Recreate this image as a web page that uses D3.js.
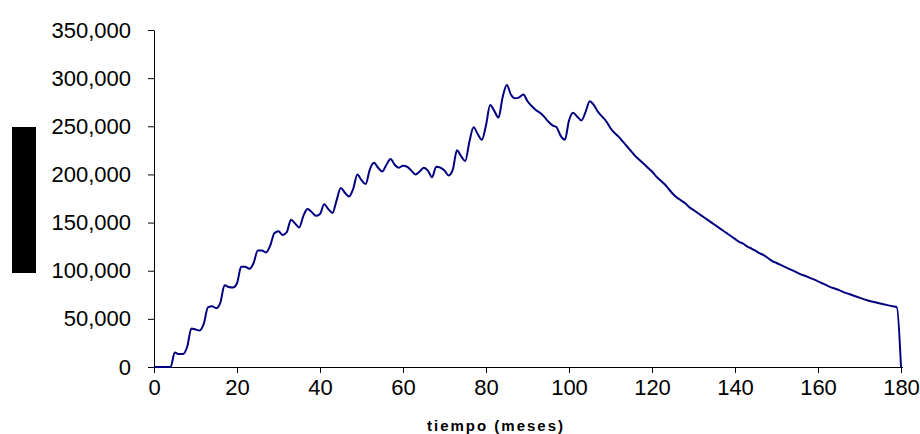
<!DOCTYPE html>
<html>
<head>
<meta charset="utf-8">
<script src="https://cdn.jsdelivr.net/npm/d3@7"></script>
<style>
  body { margin: 0; background: #fff; }
  svg { display: block; }
  .axis text { font-family: "Liberation Sans", Arial, sans-serif; font-size: 22px; fill: #000; }
  .axis path, .axis line { stroke: #000; }
</style>
</head>
<body>
<div id="chart"></div>
<script>
// monthly values, month 0 .. 180
var months = d3.range(0, 181);
var values = [
    0, 0, 0, 0, 0, 15000, 13500, 13500, 21000, 40000,
    39000, 38000, 45000, 62000, 63000, 61000, 67000, 85000, 83000, 82500,
    87000, 104000, 104000, 102000, 108000, 121000, 121000, 119000, 126000, 139000,
    141000, 137000, 140000, 153000, 149000, 145000, 157000, 164000, 161000, 157000,
    159000, 169000, 164000, 160000, 173000, 186000, 181000, 177000, 185000, 200000,
    194000, 190000, 205000, 212000, 207000, 203000, 210000, 216000, 210000, 207000,
    209000, 208000, 204000, 200000, 203000, 207000, 204000, 197000, 208000, 207000,
    204000, 199000, 205000, 225000, 219000, 214000, 234000, 249000, 242000, 236000,
    251000, 272000, 266000, 259000, 280000, 293000, 283000, 279000, 280000, 283000,
    276000, 271000, 267000, 264000, 260000, 255000, 251000, 249000, 240000, 236000,
    256000, 264000, 260000, 256000, 265000, 276000, 272000, 265000, 260000, 255000,
    248000, 243000, 239000, 234000, 229000, 224000, 219000, 215000, 211000, 207000,
    203000, 198000, 194000, 190000, 185000, 180000, 176000, 173000, 170000, 166000,
    163000, 160000, 157000, 154000, 151000, 148000, 145000, 142000, 139000, 136000,
    133000, 130000, 128000, 125000, 123000, 120500, 118000, 116000, 113000, 110000,
    108000, 106000, 104000, 102000, 100000, 98000, 96000, 94500, 92500, 91000,
    89000, 87000, 85000, 83000, 81500, 80000, 78000, 76500, 75000, 73500,
    72000, 70500, 69000, 68000, 67000, 66000, 65000, 64000, 63000, 62000,
    0
];
var xTicks = [0, 20, 40, 60, 80, 100, 120, 140, 160, 180];
var yTicks = [0, 50000, 100000, 150000, 200000, 250000, 300000, 350000];
var xTitle = "tiempo (meses)";

var svgWidth = 920, svgHeight = 434;
var margin = { top: 30, right: 19, bottom: 67, left: 154 };
var width = svgWidth - margin.left - margin.right;
var height = svgHeight - margin.top - margin.bottom;

var svg = d3.select("#chart")
    .append("svg")
    .attr("width", svgWidth)
    .attr("height", svgHeight);

// black box left of the y axis
svg.append("rect")
    .attr("x", 12)
    .attr("y", 127)
    .attr("width", 24)
    .attr("height", 146)
    .attr("fill", "#000");

var g = svg.append("g")
    .attr("transform", "translate(" + margin.left + "," + margin.top + ")");

var x = d3.scaleLinear().domain([0, 180]).range([0, 747]);
var y = d3.scaleLinear().domain([0, 350000]).range([height, 0]);

g.append("g")
    .attr("class", "axis")
    .attr("transform", "translate(0," + height + ")")
    .call(d3.axisBottom(x).tickValues(xTicks).tickSize(6).tickPadding(6).tickSizeOuter(0))
    .select(".domain")
    .attr("d", "M0,0.5H" + (x(180) + 2));

g.append("g")
    .attr("class", "axis")
    .call(d3.axisLeft(y).tickValues(yTicks).tickSize(6).tickPadding(17).tickSizeOuter(0)
        .tickFormat(d3.format(",")));

var line = d3.line()
    .x(function(d, i) { return x(months[i]); })
    .y(function(d) { return y(d); })
    .curve(d3.curveMonotoneX);

g.append("path")
    .datum(values)
    .attr("fill", "none")
    .attr("stroke", "#000080")
    .attr("stroke-width", 2)
    .attr("d", line);

svg.append("text")
    .attr("x", 496)
    .attr("y", 431)
    .attr("text-anchor", "middle")
    .style("font-family", "'Liberation Sans', Arial, sans-serif")
    .style("font-size", "15px")
    .style("font-weight", "bold")
    .style("letter-spacing", "2px")
    .text(xTitle);
</script>
</body>
</html>
